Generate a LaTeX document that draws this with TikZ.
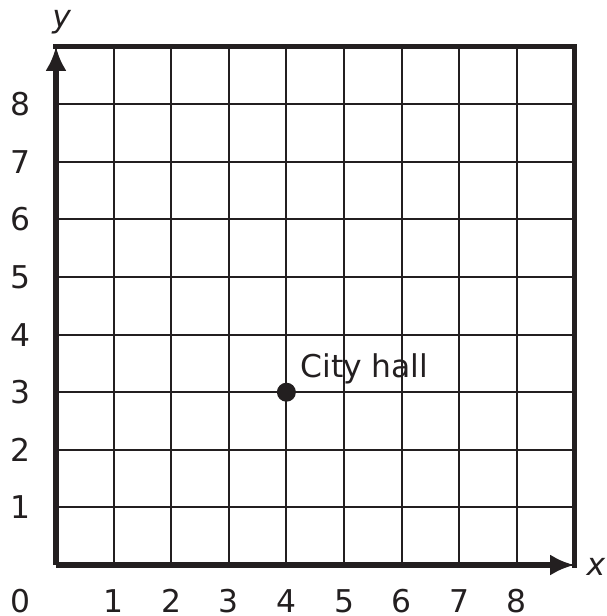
\documentclass[tikz,border=0pt]{standalone}
\usepackage{fontspec}
\setmainfont{DejaVu Sans}
\usetikzlibrary{
  arrows.meta,
  calc,
  positioning
}
\definecolor{inkblack}{RGB}{35,31,32}
\tikzset{
  >={Latex[length=12pt,width=10.5pt]},
  font=\fontsize{15.5}{18}\selectfont,
  gridline/.style={
    draw=inkblack,
    line width=1pt
  },
  axis/.style={
    ->,
    draw=inkblack,
    line width=2.8pt
  },
  border/.style={
    draw=inkblack,
    line width=2.8pt,
    line cap=rect
  },
  ticklabel/.style={
    text=inkblack,
    inner sep=0pt
  },
  axislabel/.style={
    text=inkblack,
    inner sep=0pt,
    font=\fontsize{15.5}{18}\selectfont\itshape
  },
  place/.style={
    circle,
    fill=inkblack,
    inner sep=0pt,
    minimum size=0.33cm
  }
}

\begin{document}
\begin{tikzpicture}
\useasboundingbox (-0.972,-0.885) rectangle (9.566,9.809);

% Corners of the plane.
\coordinate (origin) at (0,0);
\coordinate (xend) at (9,0);
\coordinate (yend) at (0,9);
\coordinate (corner) at (9,9);

% Grid.
\draw[gridline] (origin) grid (corner);

% Frame and axes.
\draw[border] (yend) -- (corner) -- (xend);
\draw[axis] (origin) -- (xend);
\draw[axis] (origin) -- (yend);

\node[axislabel] (xlabel) at (9.375,-0.03) {x};
\node[axislabel] (ylabel) at (0.10,9.43) {y};

% Tick labels.
\node[ticklabel] (zero) at (-0.625,-0.625) {0};
\foreach \i in {1,...,8} {
  \node[ticklabel] (xtick\i) at (\i,-0.625) {\i};
  \node[ticklabel] (ytick\i) at (-0.625,\i) {\i};
}

% Marked place.
\node[place] (hall) at (4,3) {};
\node[ticklabel, anchor=base west] (halllabel) at ($(hall.center)+(0.236,0.26)$) {City hall};

\end{tikzpicture}
\end{document}
